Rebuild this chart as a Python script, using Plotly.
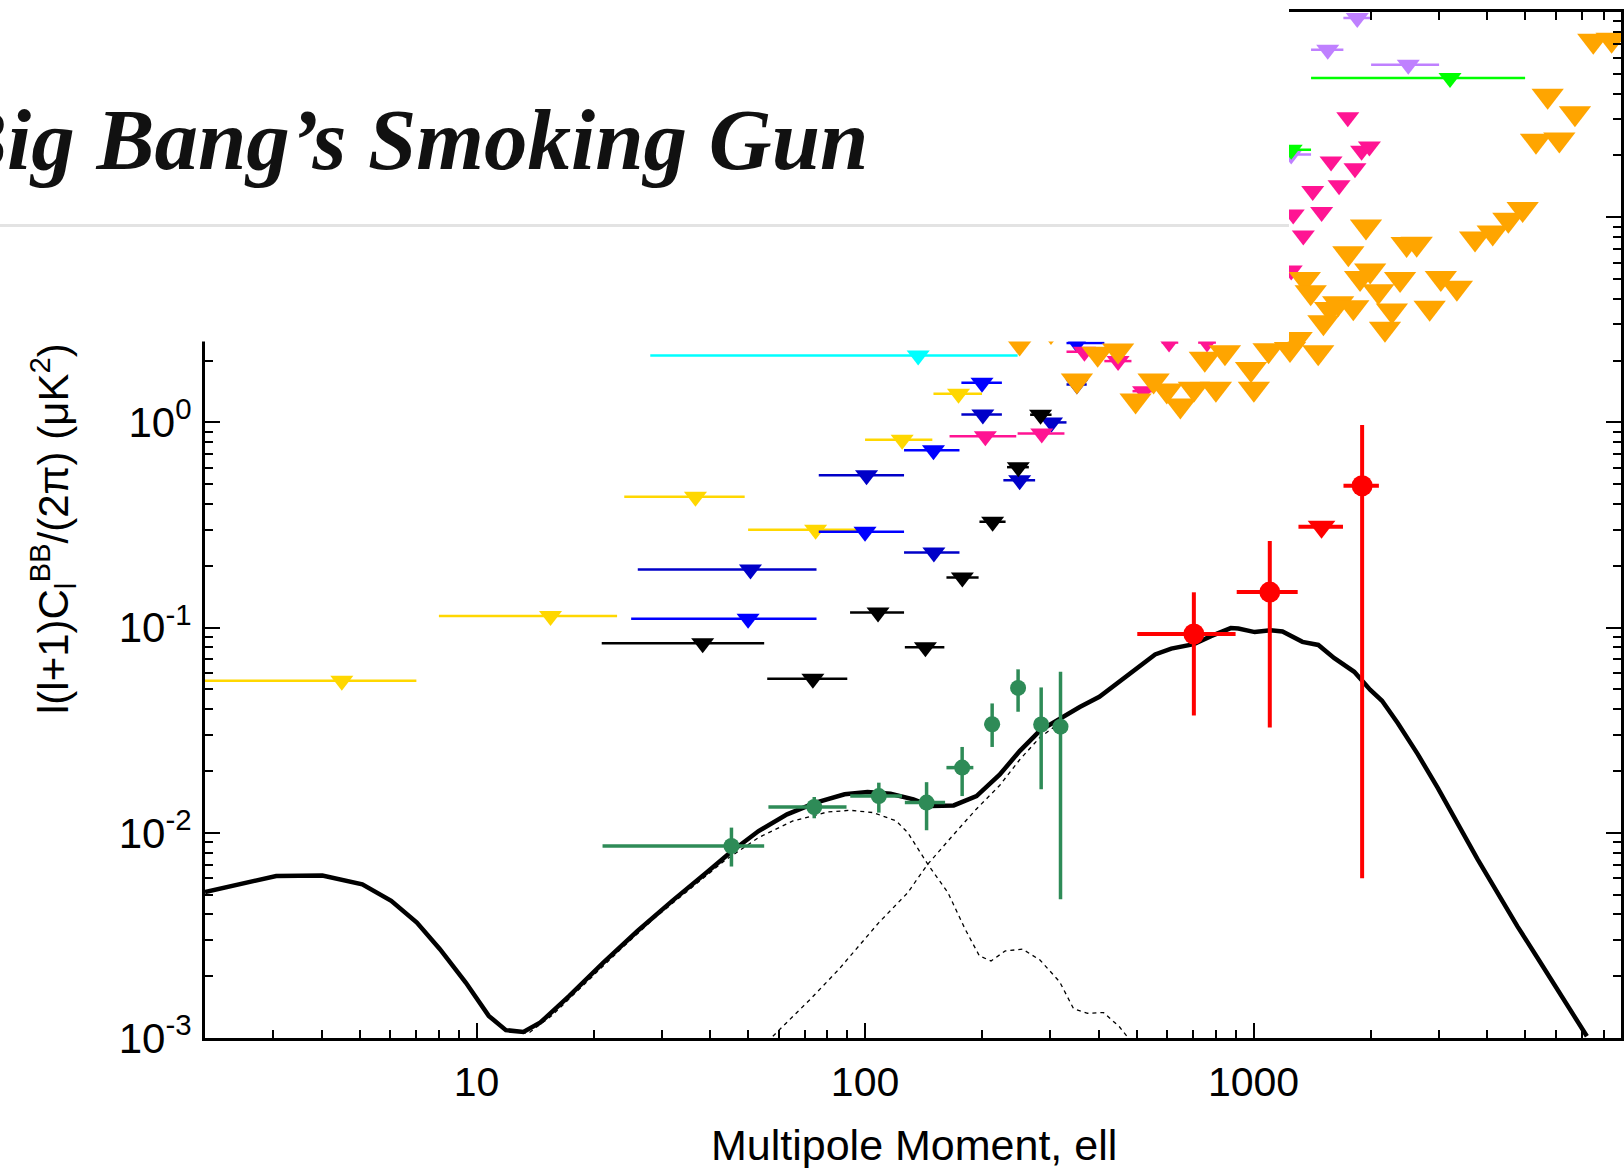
import plotly.graph_objects as go

# ---------------- data ----------------
# theory curves: total BB, tensor (primordial) part, lensing part
total_ell = [2, 3.05, 4.01, 5.08, 6.03, 7.02, 8.05, 9.38, 10.75, 11.9, 13.2, 14.6, 17.3, 21.2, 26.0,
             31.9, 39.1, 44.9, 53.2, 63.0, 74.7, 88.6, 101.5, 116.3, 133.2, 147.6, 169.1, 193.6,
             222, 250, 282, 317, 357, 401, 451, 508, 558, 614, 702, 777, 874, 914, 1007, 1106,
             1187, 1336, 1468, 1614, 1816, 1995, 2141, 2352, 2648, 2979, 3351, 3771, 4243, 4774,
             5373, 6043, 6721, 7211]
total_val = [0.00515, 0.00616, 0.00619, 0.00561, 0.00466, 0.00365, 0.00271, 0.001864, 0.001282,
             0.001092, 0.001071, 0.00119, 0.0016, 0.00233, 0.00333, 0.00466, 0.0064, 0.0080, 0.0102,
             0.0123, 0.01403, 0.0154, 0.0158, 0.0155, 0.01456, 0.0135, 0.0136, 0.0151, 0.0192,
             0.0250, 0.0315, 0.0360, 0.0410, 0.0460, 0.0545, 0.0650, 0.0740, 0.0790, 0.0830, 0.0909,
             0.0995, 0.0990, 0.0951, 0.097, 0.0957, 0.0852, 0.0823, 0.071, 0.0609, 0.0498, 0.044,
             0.0342, 0.0241, 0.01656, 0.0111, 0.00744, 0.00511, 0.00351, 0.00247, 0.00174,
             0.001257, 0.00102]

tensor_ell = [11.9, 13.6, 15.6, 19.2, 23.5, 28.8, 35.3, 43.4, 53.2, 65.2, 80.0, 91.7, 105, 120.3,
              128.8, 145, 163.4, 181, 197, 211, 229.6, 254.4, 282, 317, 344, 374, 411, 451, 480]
tensor_val = [0.00108, 0.001055, 0.001282, 0.001864, 0.00271, 0.00386, 0.0053, 0.00729, 0.00948,
              0.01142, 0.01263, 0.01287, 0.01254, 0.01142, 0.01002, 0.00703, 0.00511, 0.00339,
              0.00251, 0.002375, 0.002657, 0.00271, 0.0024, 0.001877, 0.00139, 0.00132, 0.00133,
              0.001137, 0.00098]

lensing_ell = [57.9, 72.3, 85.6, 108.5, 128.8, 145, 169, 193, 222, 250, 282, 317]
lensing_val = [0.00102, 0.001545, 0.00216, 0.00365, 0.00511, 0.00703, 0.0098, 0.0130, 0.0170,
               0.0227, 0.0292, 0.0343]

# upper limits (down triangles) with ell-bin ranges
yellow_ell = [4.5, 15.5, 36.6, 74.6, 124.6, 174]
yellow_lo = [2, 8, 24, 50, 100, 150]
yellow_hi = [7, 23, 49, 96, 149, 200]
yellow_val = [0.0551, 0.114, 0.434, 0.300, 0.823, 1.38]

blue_ell = [50, 100, 150, 200, 351]
blue_lo = [25, 76, 126, 177, 330]
blue_hi = [75, 126, 175, 225, 413]
blue_val = [0.1105, 0.293, 0.732, 1.56, 2.44]

navy_ell = [50.7, 100.9, 150.4, 201, 250, 302, 351]
navy_lo = [26, 76, 126, 177, 227, 290, 330]
navy_hi = [75, 126, 175, 225, 274, 330, 372]
navy_val = [0.192, 0.553, 0.232, 1.093, 0.523, 1.00, 1.53]

black_ell = [38.2, 73.4, 108, 143, 178, 213, 248, 283]
black_lo = [21, 56, 91.5, 126.6, 162, 197, 232, 266]
black_hi = [55, 90, 126, 160, 196, 230, 264, 302]
black_val = [0.0838, 0.0564, 0.1186, 0.0801, 0.1756, 0.328, 0.605, 1.09]

cyan_ell = [137]
cyan_lo = [28]
cyan_hi = [247]
cyan_val = [2.12]

pink_ell = [204, 285, 367, 448, 521, 606, 759, 1250, 1265, 1343, 1420, 1497, 1583, 1660, 1748,
            1824, 1897, 1987]
pink_lo = [165, 247, 330, 413, 488, 580, 720, 1250, 1265, 1343, 1420, 1497, 1583, 1660, 1748,
           1824, 1897, 1987]
pink_hi = [245, 326, 375, 485, 550, 640, 800, 1250, 1265, 1343, 1420, 1497, 1583, 1660, 1748,
           1824, 1897, 1987]
pink_val = [0.857, 0.883, 2.21, 1.99, 1.42, 2.45, 2.45, 5.5, 10.3, 8.14, 13.4, 10.6, 18.7, 14.3,
            30.7, 17.3, 21.1, 22.1]

purple_ell = [1849, 1552, 2502, 1250]
purple_lo = [1703, 1406, 2007, 1100]
purple_hi = [1995, 1703, 3003, 1406]
purple_val = [93.5, 65.5, 55.4, 20.2]

lime_ell = [3204, 1250]
lime_lo = [1406, 1100]
lime_hi = [5000, 1406]
lime_val = [47.7, 21.3]

orange_ell = [7490, 8350, 5715, 6718, 5333, 6124, 4928, 4527, 4127, 3716, 1947, 1754, 2477, 2630,
              1996, 1880, 2383, 3034, 3337, 1355, 1403, 2095, 2270, 2840, 1651, 1806, 1574, 1513,
              2179, 1291, 1467, 1241, 1093, 985, 1002, 250, 301, 351, 397, 448, 749, 844, 553,
              497, 598, 648, 702, 800]
orange_val = [72.5, 73.3, 39.1, 32.1, 23.6, 23.9, 10.97, 9.73, 8.43, 7.88, 9.0, 6.67, 7.41, 7.43,
              5.50, 5.06, 5.0, 5.06, 4.53, 5.0, 4.31, 4.36, 3.51, 3.62, 3.81, 3.64, 3.57, 3.08,
              2.86, 2.55, 2.20, 2.28, 2.25, 1.82, 1.46, 2.45, 2.79, 1.60, 2.16, 2.24, 2.04, 2.2,
              1.60, 1.28, 1.43, 1.21, 1.46, 1.46]

# detections
red_ell = [702, 1101, 1903]
red_lo = [502, 905, 1704]
red_hi = [899, 1299, 2102]
red_val = [0.0931, 0.149, 0.491]
red_ylo = [0.0373, 0.0326, 0.006]
red_yhi = [0.1486, 0.264, 0.971]

redlim_ell = [1496]
redlim_lo = [1305]
redlim_hi = [1699]
redlim_val = [0.310]

sg_ell = [45.3, 74.0, 108.5, 144, 177.8, 212.4, 247.7, 284, 318.5]
sg_lo = [21.1, 56.4, 91.6, 126.6, 162, 203, 238, 284, 318.5]
sg_hi = [55.0, 89.6, 124.5, 160.7, 190, 222, 258, 284, 318.5]
sg_val = [0.00862, 0.01336, 0.0151, 0.01403, 0.02078, 0.0338, 0.0508, 0.0337, 0.0329]
sg_ylo = [0.00685, 0.01177, 0.01254, 0.01029, 0.0151, 0.0262, 0.0389, 0.0163, 0.00474]
sg_yhi = [0.0106, 0.01494, 0.01755, 0.01765, 0.0262, 0.0427, 0.0626, 0.0511, 0.0609]

x_tickvals = [10, 100, 1000]
x_ticktext = ["10", "100", "1000"]
y_tickvals = [1e-3, 1e-2, 1e-1, 1, 10, 100]
y_ticktext = ["10<sup>-3</sup>", "10<sup>-2</sup>", "10<sup>-1</sup>", "10<sup>0</sup>",
              "10<sup>1</sup>", "10<sup>2</sup>"]

title_text = "<b><i>Big Bang\u2019s Smoking Gun</i></b>"
x_title = "Multipole Moment, ell"
y_title = "l(l+1)C<sub>l</sub><sup>BB</sup>/(2\u03c0) (\u03bcK<sup>2</sup>)"

# ---------------- figure ----------------
fig = go.Figure()


def minus(c, lo):
    return [a - b for a, b in zip(c, lo)]


def plus(c, hi):
    return [b - a for a, b in zip(c, hi)]


fig.add_trace(go.Scatter(x=tensor_ell, y=tensor_val, mode="lines",
                         line=dict(color="black", width=1.3, dash="4px,4px")))
fig.add_trace(go.Scatter(x=lensing_ell, y=lensing_val, mode="lines",
                         line=dict(color="black", width=1.3, dash="4px,4px")))
fig.add_trace(go.Scatter(x=total_ell, y=total_val, mode="lines",
                         line=dict(color="black", width=4.5)))


def limits(xs, lo, hi, ys, color, size, thick=2.5):
    fig.add_trace(go.Scatter(
        x=xs, y=ys, mode="markers",
        marker=dict(symbol="triangle-down", size=size, color=color, line=dict(width=0)),
        error_x=dict(type="data", symmetric=False, array=plus(xs, hi), arrayminus=minus(xs, lo),
                     color=color, thickness=thick, width=0)))


limits(cyan_ell, cyan_lo, cyan_hi, cyan_val, "#00FFFF", 20)
limits(yellow_ell, yellow_lo, yellow_hi, yellow_val, "#FFD700", 20)
limits(blue_ell, blue_lo, blue_hi, blue_val, "#0000FF", 20)
limits(navy_ell, navy_lo, navy_hi, navy_val, "#0000C8", 20)
limits(black_ell, black_lo, black_hi, black_val, "#000000", 20)
limits(pink_ell, pink_lo, pink_hi, pink_val, "#FF1493", 20)
limits(purple_ell, purple_lo, purple_hi, purple_val, "#BF80FF", 20)
limits(lime_ell, lime_lo, lime_hi, lime_val, "#00FF00", 20)
fig.add_trace(go.Scatter(x=orange_ell, y=orange_val, mode="markers",
                         marker=dict(symbol="triangle-down", size=28, color="#FFA500",
                                     line=dict(width=0))))
limits(redlim_ell, redlim_lo, redlim_hi, redlim_val, "#FF0000", 24, 4)

fig.add_trace(go.Scatter(
    x=sg_ell, y=sg_val, mode="markers",
    marker=dict(symbol="circle", size=16, color="#2E8B57"),
    error_x=dict(type="data", symmetric=False, array=plus(sg_ell, sg_hi),
                 arrayminus=minus(sg_ell, sg_lo), color="#2E8B57", thickness=3.5, width=0),
    error_y=dict(type="data", symmetric=False, array=plus(sg_val, sg_yhi),
                 arrayminus=minus(sg_val, sg_ylo), color="#2E8B57", thickness=3.5, width=0)))
fig.add_trace(go.Scatter(
    x=red_ell, y=red_val, mode="markers",
    marker=dict(symbol="circle", size=21, color="#FF0000"),
    error_x=dict(type="data", symmetric=False, array=plus(red_ell, red_hi),
                 arrayminus=minus(red_ell, red_lo), color="#FF0000", thickness=4, width=0),
    error_y=dict(type="data", symmetric=False, array=plus(red_val, red_yhi),
                 arrayminus=minus(red_val, red_ylo), color="#FF0000", thickness=4, width=0)))

x_minor = [k * 10 ** d for d in range(0, 4) for k in range(2, 10) if k * 10 ** d < 9000]
y_minor = [k * 10.0 ** d for d in range(-3, 2) for k in range(2, 10)]

axis_common = dict(type="log", showline=True, linewidth=3, linecolor="black", mirror="allticks",
                   ticks="inside", ticklen=15, tickwidth=2, tickcolor="black", showgrid=False,
                   zeroline=False, automargin=False, tickmode="array")

fig.update_xaxes(**axis_common, range=[0.30103, 3.9458], tickvals=x_tickvals, ticktext=x_ticktext,
                 ticklabelstandoff=6,
                 tickfont=dict(family="Liberation Sans, Arial, sans-serif", size=41,
                               color="black"),
                 minor=dict(tickmode="array", tickvals=x_minor, ticks="inside", ticklen=8,
                            tickwidth=2, tickcolor="black", showgrid=False))
fig.update_yaxes(**axis_common, range=[-3, 2], tickvals=y_tickvals, ticktext=y_ticktext,
                 ticklabelstandoff=2,
                 tickfont=dict(family="Liberation Sans, Arial, sans-serif", size=42,
                               color="black"),
                 minor=dict(tickmode="array", tickvals=y_minor, ticks="inside", ticklen=8,
                            tickwidth=2, tickcolor="black", showgrid=False))

PW, PH, L, B = 1416.0, 1026.0, 205.0, 1038.5


def px(x):
    return (x - L) / PW


def py(y):
    return (B - y) / PH


fig.update_layout(
    template="none", width=1624, height=1168, showlegend=False,
    margin=dict(l=205, r=3, t=12, b=130, pad=0),
    paper_bgcolor="white", plot_bgcolor="white",
    font=dict(family="Liberation Sans, Arial, sans-serif", color="black"),
    shapes=[
        dict(type="rect", xref="paper", yref="paper", x0=px(-20), x1=px(1289), y0=py(342),
             y1=py(-20), fillcolor="white", line=dict(width=0), layer="above"),
        dict(type="line", xref="paper", yref="paper", x0=px(-20), x1=px(1289), y0=py(226),
             y1=py(226), line=dict(color="#E3E3E3", width=3), layer="above"),
    ],
    annotations=[
        dict(text=y_title, xref="paper", yref="paper", x=px(52), y=py(717), xanchor="center",
             yanchor="bottom", textangle=-90, showarrow=False,
             font=dict(size=42, family="Liberation Sans, Arial, sans-serif", color="black")),
        dict(text=" ", xref="paper", yref="paper", x=px(0), y=py(250), xanchor="left",
             yanchor="top", width=130, height=92, bgcolor="white", borderpad=0, borderwidth=0,
             showarrow=False),
        dict(text=x_title, xref="paper", yref="paper", x=px(914), y=py(1145), xanchor="center",
             yanchor="middle", showarrow=False,
             font=dict(size=43, family="Liberation Sans, Arial, sans-serif", color="black")),
        dict(text=title_text, xref="paper", yref="paper", x=px(-54), y=py(140), xanchor="left",
             yanchor="middle", showarrow=False,
             font=dict(size=87, family="Liberation Serif, Times New Roman, serif",
                       color="#111111")),
    ],
)

fig.write_html("out.html")
